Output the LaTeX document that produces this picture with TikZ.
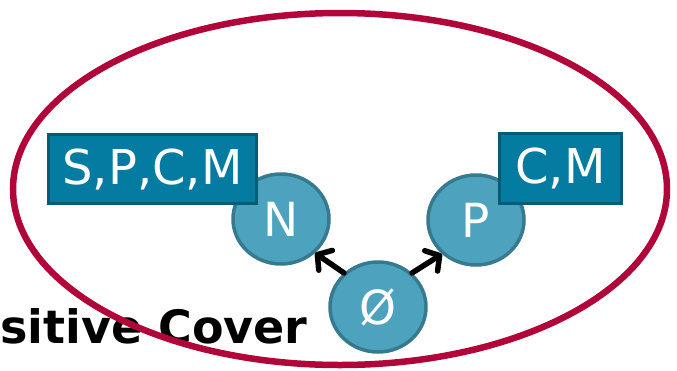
\documentclass[tikz,border=0pt]{standalone}
\usepackage{fontspec}
\setmainfont{DejaVu Sans}
\usetikzlibrary{arrows.meta,shapes.geometric}
\definecolor{crimson}{HTML}{B0063A}
\definecolor{nodefill}{HTML}{4DA3BD}
\definecolor{nodeline}{HTML}{357A8E}
\definecolor{boxfill}{HTML}{047BA0}
\definecolor{boxline}{HTML}{045D78}
\tikzset{
  setnode/.style={ellipse, draw=nodeline, fill=nodefill, line width=3.5pt,
    minimum width=96pt, minimum height=90pt, inner sep=0pt,
    text=white, font=\fontsize{47}{47}\selectfont},
  attrbox/.style={rectangle, draw=boxline, fill=boxfill, line width=3pt,
    inner sep=0pt, text=white, font=\fontsize{48}{48}\selectfont},
  coverarrow/.style={line width=5.5pt, line cap=round, black,
    -{Straight Barb[length=10pt,width=24pt,line cap=round,line join=round]}},
}
\begin{document}
\begin{tikzpicture}[x=1pt,y=-1pt]
  \useasboundingbox (0,0) rectangle (677,370);
  \clip (0,0) rectangle (677,370);

  % heading text at the left edge
  \node (title) [anchor=base west, inner sep=0pt,
    font=\fontsize{46}{46}\selectfont\bfseries] at (0,343) {sitive Cover};

  % lattice nodes
  \node (N) [setnode] at (281,219) {N};
  \node (P) [setnode] at (476,220) {P};
  \node (E) [setnode] at (378,307) {Ø};

  % attribute sets attached to the nodes
  \node (SPCM) [attrbox, minimum width=208pt, minimum height=69pt] at (152.5,169) {S,P,C,M};
  \node (CM) [attrbox, minimum width=122pt, minimum height=70pt] at (560.5,168.5) {C,M};

  % edges from the empty set
  \draw[coverarrow] (E.135) -- (N.-45);
  \draw[coverarrow] (E.45) -- (P.-135);

  % enclosing ellipse
  \node (cover) [ellipse, draw=crimson, line width=6.5pt, minimum width=654pt,
    minimum height=352pt, inner sep=0pt] at (340,189) {};
\end{tikzpicture}
\end{document}
